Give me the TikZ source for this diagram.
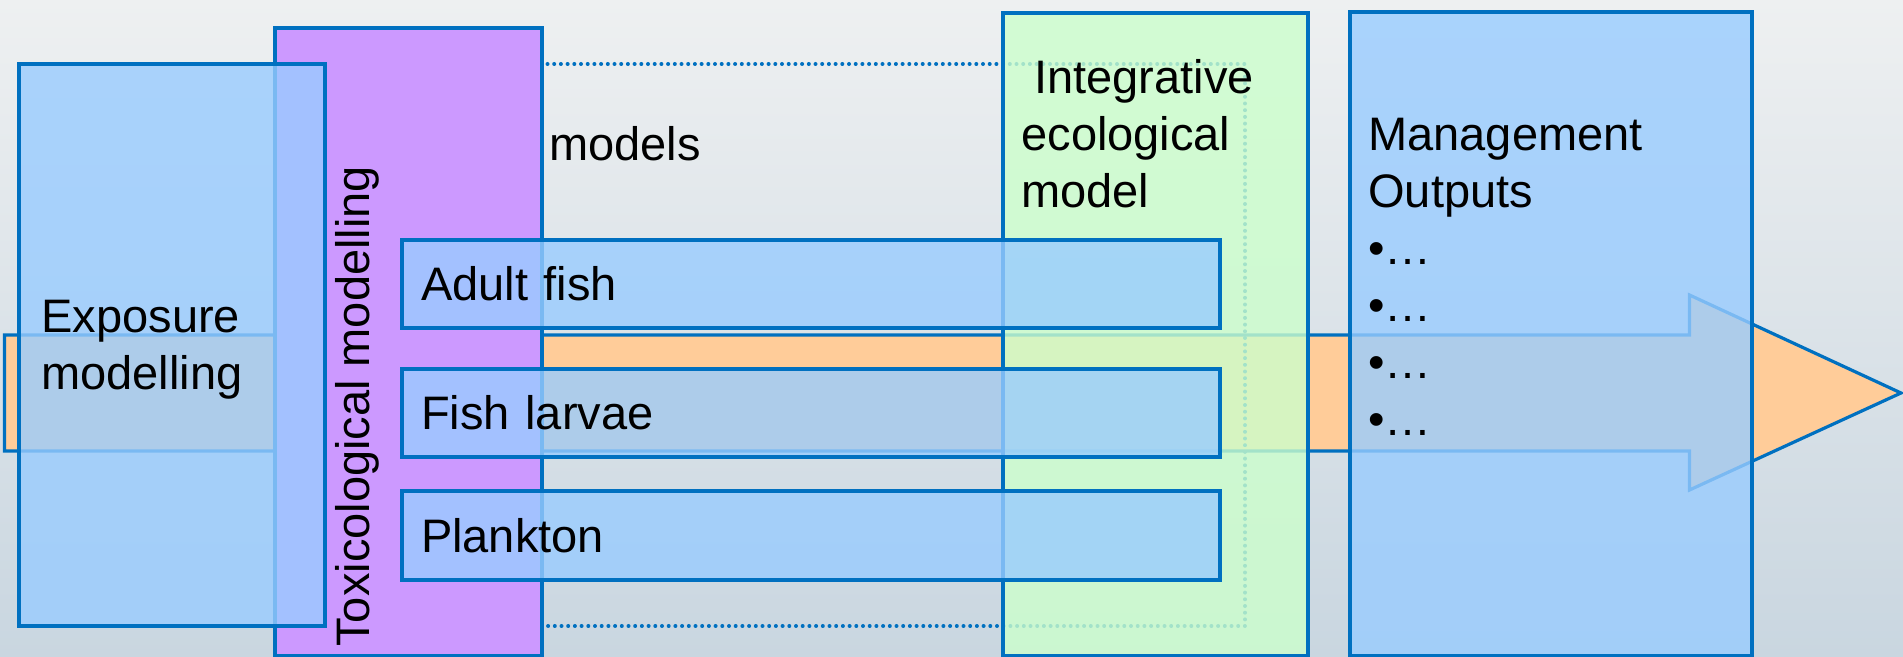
\documentclass[tikz,border=0pt]{standalone}
\usepackage{fontspec}
\setmainfont{Liberation Sans}
\usetikzlibrary{positioning}
\definecolor{edgeblue}{HTML}{0070C0}
\definecolor{boxblue}{HTML}{99CCFF}
\definecolor{toxpurple}{HTML}{CC99FF}
\definecolor{ecogreen}{HTML}{CCFFCC}
\definecolor{flowor}{HTML}{FFCC99}
\definecolor{bgtop}{HTML}{EEF0F1}
\definecolor{bgmid}{HTML}{E3E7EA}
\definecolor{bgbot}{HTML}{C9D6E0}
\tikzset{
  box/.style={draw=edgeblue, line width=2pt, inner sep=0pt, outer sep=0pt, anchor=north west},
  bluebox/.style={box, fill=boxblue, fill opacity=0.8, text opacity=1},
  species/.style={bluebox, minimum height=44.2pt, text width=390pt, inner xsep=9.5pt,
    align=left, font=\fontsize{23.5}{28.5}\selectfont},
  txt/.style={font=\fontsize{23.5}{28.5}\selectfont, inner sep=0pt, anchor=north west, align=left},
  flow/.style={draw=edgeblue, line width=1.6pt, fill=flowor},
  dotframe/.style={draw=edgeblue, line width=2pt, line cap=round, dash pattern=on 0pt off 3.35pt}
}

\begin{document}
\begin{tikzpicture}[x=0.5pt, y=-0.5pt]

  %% background
  \shade[top color=bgtop, middle color=bgmid, bottom color=bgbot] (0,0) rectangle (1903,657);
  \useasboundingbox (0,0) rectangle (1903,657);

  %% big flow arrow
  \draw[flow] (4.5,335) -- (1689.5,335) -- (1689.5,295) -- (1901,393)
    -- (1689.5,490) -- (1689.5,451) -- (4.5,451) -- cycle;

  %% dotted frame round the species models
  \draw[dotframe] (420,64) rectangle (1245,626);

  \node[box, fill=toxpurple, minimum width=133.5pt, minimum height=313.75pt] (toxi) at (275,28.5) {};
  \node[bluebox, minimum width=153.1pt, minimum height=281.2pt] (expo) at (18.75,63.7) {};
  \node[box, fill=ecogreen, fill opacity=0.8, minimum width=152.5pt, minimum height=321.7pt] (eco) at (1003,12.6) {};

  \node[species] (adult) at (402,239.6) {Adult fish};
  \node[species, below=20.3pt of adult] (larvae) {Fish larvae};
  \node[species, below=17.2pt of larvae] (plankton) {Plankton};

  \node[bluebox, minimum width=201pt, minimum height=322.2pt] (mgmt) at (1350,11.7) {};

  %% texts
  \node[txt] (expotxt) at (41,300) {Exposure\\modelling};
  \node[txt, rotate=90, anchor=base west] (toxitxt) at (369,647) {Toxicological modelling};
  \node[txt] (modtxt) at (549,126) {models};
  \node[txt] (ecotxt) at (1021,59) {\ Integrative\\ecological\\model};
  \node[txt] (mgmttxt) at (1368,118) {Management\\Outputs\\•…\\•…\\•…\\•…};

\end{tikzpicture}
\end{document}
